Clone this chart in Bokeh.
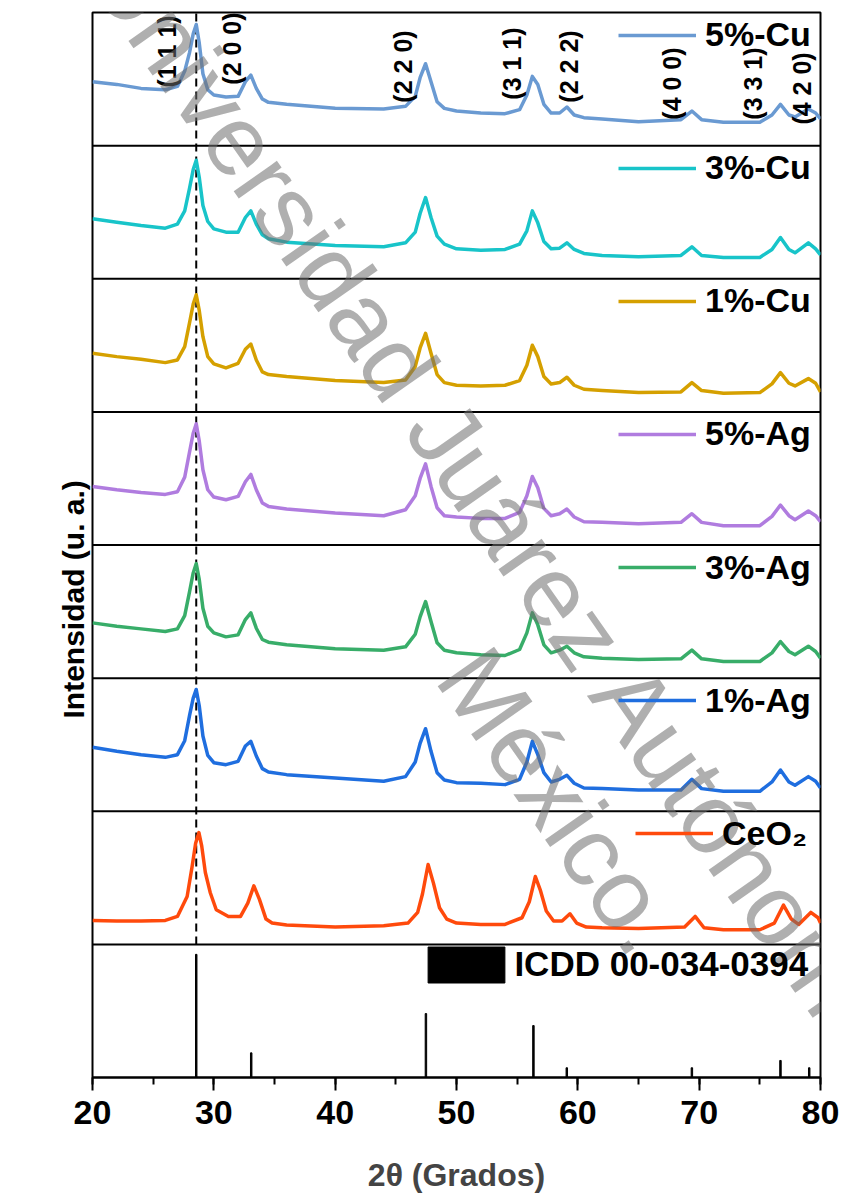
import numpy as np
from bokeh.plotting import figure
from bokeh.models import (Range1d, Span, Legend, LegendItem, Label, Title,
                          FixedTicker, SingleIntervalTicker)
from bokeh.core.properties import value
from bokeh.embed import file_html
from bokeh.resources import INLINE

# ---------------- data ----------------
# 2-theta grid of the doped samples
TTH = [20, 22, 24, 26, 27, 27.6, 28.0, 28.3, 28.55, 28.8, 29.1, 29.5, 30, 31, 32,
       32.6, 33.05, 33.5, 34, 34.5, 36, 40, 44, 45.8, 46.6, 47.0, 47.45, 47.9, 48.4,
       49, 50, 52, 54, 55.2, 55.8, 56.25, 56.7, 57.2, 57.8, 58.5, 59.1, 59.7, 60.5,
       62, 65, 68.5, 69.4, 70.2, 72, 75, 76.0, 76.7, 77.4, 77.9, 79.0, 79.6, 80]

I_5CU = [48, 46, 43, 42, 44.5, 56, 70, 84, 91, 77, 54, 42, 38, 36.5, 37, 48, 53,
         43, 35, 32.5, 31, 28, 27.5, 29.5, 37, 51, 61.5, 48, 33, 28, 26, 24.5, 24,
         27, 38, 52, 46, 31, 24.5, 24.5, 29, 23, 21, 20, 18, 19.5, 26, 19.5, 17.5,
         17.5, 23, 31, 23, 21.5, 27.5, 24.5, 20]
I_3CU = [45, 42.5, 40, 38, 41, 51, 68, 82, 89, 76, 55, 43, 37.5, 35, 35, 46,
         51, 41, 33, 30, 27.5, 25, 24, 27, 35, 49, 61, 46, 32, 26, 22.5, 21.5, 22,
         26, 36, 51, 42, 28, 22.5, 23, 27, 22, 19, 17.5, 16.5, 17.5, 24, 17.5, 16,
         16, 22, 31, 22, 19.5, 27, 22.5, 18]
I_1CU = [44, 41.5, 39.5, 37, 39, 49, 67, 81, 88, 76, 56.5, 41.5, 36, 33, 36.5, 47,
         51, 39, 30, 28, 26.5, 23.5, 22, 24, 34, 48, 59, 44, 28, 22, 20, 19.5, 20,
         23.5, 35, 50, 41.5, 26.5, 21, 22, 26, 20, 17, 16, 14.5, 15, 22, 16, 14, 14.5,
         21, 29.5, 21.5, 19.5, 25, 21.5, 15]
I_5AG = [44, 41.5, 39.5, 38, 40, 51, 70, 84, 91, 78, 56.5, 41.5, 36, 34,
         36.5, 47.5, 53, 41.5, 31.5, 29, 27, 24, 22, 26.5, 37, 50, 61, 44, 28, 22,
         21, 20, 20, 24.5, 37, 51.5, 43, 27.5, 22, 23.5, 27, 21, 17.5, 17, 16, 17,
         23.5, 17, 14.5, 14.5, 21.5, 30, 22, 19, 25.5, 22, 17.5]
I_3AG = [41.5, 39, 37, 35, 37, 47, 65, 79, 86, 74, 52.5, 39, 34, 31, 32.5,
         44, 49, 37.5, 29, 27, 25, 22, 21, 23.5, 33, 46, 57.5, 42.5, 26.5, 21, 19,
         17.5, 17, 21.5, 34, 49, 40, 25, 19, 21, 24, 19, 16, 15, 14, 14.5, 21, 14.5,
         12.5, 12.5, 19, 27.5, 20, 17.5, 24, 20, 15]
I_1AG = [48, 45, 42.5, 40.5, 42.5, 53, 72, 85, 91.5, 79, 56.5, 42, 36.5, 35, 37.5,
         49, 52.5, 41.5, 32, 29.5, 27.5, 25, 22.5, 26, 37, 51, 62, 45, 29, 23.5,
         21.5, 21, 20, 24, 37, 52.5, 42.5, 29, 22, 24, 27, 21, 17.5, 17, 16, 16, 24,
         17, 15, 15, 22, 31, 22, 19.5, 26, 22.5, 17.5]

# pure ceria (peaks slightly shifted)
TTH_CEO2 = [20, 22, 24, 26, 27, 27.8, 28.2, 28.5, 28.77, 29.0, 29.3, 29.7, 30.2, 31.2,
            32.2, 32.8, 33.3, 33.75, 34.3, 34.8, 36, 40, 44, 46, 46.8, 47.2, 47.66,
            48.1, 48.6, 49.2, 50, 52, 54, 55.4, 56.0, 56.5, 56.9, 57.4, 58.0, 58.7,
            59.35, 59.9, 60.7, 62, 65, 68.8, 69.67, 70.4, 72, 75, 76.2, 76.95, 77.6,
            78.2, 79.2, 79.8, 80]
I_CEO2 = [18, 17.5, 17.5, 18, 21, 36, 58, 76, 84, 74, 54, 39, 26, 21, 21, 31, 44, 34,
          19, 16, 14.5, 13, 14, 16, 24, 38, 60, 46, 27.5, 19, 16, 15, 15, 20, 32, 51,
          41, 25, 17.5, 17.5, 23, 16, 13, 12.5, 12, 13, 21, 12.5, 11, 11, 16, 29.5, 19,
          15, 24, 20, 16]

# reference pattern ICDD 00-034-0394 (relative heights)
ICDD_POS = [28.55, 33.08, 47.48, 56.34, 59.09, 69.40, 76.70, 79.07]
ICDD_INT = [92.5, 18.5, 48, 39, 7.3, 7.3, 12.8, 7.3]
ICDD_LABEL = "ICDD 00-034-0394"

# Miller indices
HKL_LABELS = ["(1 1 1)", "(2 0 0)", "(2 2 0)", "(3 1 1)", "(2 2 2)", "(4 0 0)",
              "(3 3 1)", "(4 2 0)"]
HKL_POS = [26.1, 31.5, 45.6, 54.55, 59.25, 67.8, 74.45, 78.45]
HKL_LEVEL = [43.6, 45.8, 32.3, 34.5, 32.3, 19.5, 19.5, 15.8]

SAMPLES = ["5%-Cu", "3%-Cu", "1%-Cu", "5%-Ag", "3%-Ag", "1%-Ag", "CeO₂"]
X_SERIES = [TTH, TTH, TTH, TTH, TTH, TTH, TTH_CEO2]
Y_SERIES = [I_5CU, I_3CU, I_1CU, I_5AG, I_3AG, I_1AG, I_CEO2]
COLORS = ["#6A9AD2", "#18C4C9", "#D5A000", "#B07CDF", "#38AD69", "#1F6EDF", "#FF4A0C"]

X_TITLE = "2θ (Grados)"
Y_TITLE = "Intensidad (u. a.)"

# ---------------- layout ----------------
FONT = "Liberation Sans"
W, H = 841, 1195
ML, MR, MT = 92, 21, 12
FRAME_H = 1065
MB = H - MT - FRAME_H
NPANEL = 8
PANEL_PX = FRAME_H / NPANEL
STEP = 100.0

p = figure(width=W, height=H, x_range=Range1d(20, 80),
           y_range=Range1d(0, NPANEL * STEP), output_backend="svg",
           toolbar_location=None, title=None,
           min_border_left=ML, min_border_right=MR, min_border_top=MT,
           min_border_bottom=MB)
p.outline_line_color = "black"
p.outline_line_width = 2
p.xgrid.visible = False
p.ygrid.visible = False
p.background_fill_color = "white"
p.border_fill_color = "white"

# x axis
xa = p.xaxis[0]
xa.ticker = SingleIntervalTicker(interval=10, num_minor_ticks=2)
xa.axis_line_width = 2
xa.major_tick_line_width = 2
xa.minor_tick_line_width = 2
xa.major_tick_in = 0
xa.major_tick_out = 13
xa.minor_tick_in = 0
xa.minor_tick_out = 7
xa.major_label_standoff = 10
xa.major_label_text_font = FONT
xa.major_label_text_font_style = "bold"
xa.major_label_text_font_size = "34px"
xa.major_label_text_color = "black"
xa.axis_label = X_TITLE
xa.axis_label_text_font = FONT
xa.axis_label_text_font_style = "bold"
xa.axis_label_text_font_size = "32px"
xa.axis_label_standoff = 30

# y axis: no ticks or labels, it only keeps a gap between frame and its title
ya = p.yaxis[0]
ya.ticker = FixedTicker(ticks=[])
ya.axis_line_color = None
ya.major_tick_in = 0
ya.major_tick_out = 40
ya.minor_tick_in = 0
ya.minor_tick_out = 0

# y title, set lower than the frame centre as in the source; placed outside the axis
y_title = Title(text=Y_TITLE, align="left", offset=359, vertical_align="bottom",
                standoff=6, text_font=FONT, text_font_style="bold",
                text_font_size="30px", text_color="black")
p.left = [y_title] + list(p.left)

# panel separators
for k in range(1, NPANEL):
    p.add_layout(Span(location=k * STEP, dimension="width",
                      line_color="black", line_width=2))

# dashed reference line at the (111) reflection
p.segment(x0=ICDD_POS[0], y0=STEP, x1=ICDD_POS[0], y1=NPANEL * STEP,
          line_color="black", line_width=2, line_dash="8 5")

def legend_style(leg, size="34px"):
    leg.border_line_alpha = 0
    leg.background_fill_alpha = 0
    leg.padding = 0
    leg.margin = 0
    leg.spacing = 0
    leg.label_text_font = FONT
    leg.label_text_font_style = "bold"
    leg.label_text_font_size = size
    leg.label_text_color = "black"

# patterns
ITEM_H = 40
for i, (name, xs, ys, col) in enumerate(zip(SAMPLES, X_SERIES, Y_SERIES, COLORS)):
    panel = NPANEL - 1 - i
    off = panel * STEP
    r = p.line(xs, [v + off for v in ys], line_color=col, line_width=3.5,
               line_join="round")
    cy = (panel + 1) * PANEL_PX - 22.5
    x0 = 543 if name.startswith("CeO") else 526
    leg = Legend(items=[LegendItem(label=name, renderers=[r])],
                 location=(x0, cy - ITEM_H / 2),
                 glyph_width=78, glyph_height=ITEM_H, label_height=ITEM_H,
                 label_standoff=9)
    legend_style(leg)
    p.add_layout(leg)

# reference sticks
rs = p.vbar(x=ICDD_POS, top=ICDD_INT, bottom=0, width=0.12,
            fill_color="black", line_color="black", line_width=1)
ICDD_ITEM_H = 45
leg = Legend(items=[LegendItem(label=ICDD_LABEL, renderers=[rs])],
             location=(326.4, PANEL_PX - 20.5 - ICDD_ITEM_H / 2),
             glyph_width=96, glyph_height=ICDD_ITEM_H, label_height=ICDD_ITEM_H,
             label_standoff=0)
legend_style(leg, "35px")
p.add_layout(leg)

# Miller index labels (top panel)
p.text(x=HKL_POS, y=[(NPANEL - 1) * STEP + v for v in HKL_LEVEL], text=HKL_LABELS,
       angle=np.pi / 2, text_align="left", text_baseline="middle",
       text_font=value(FONT), text_font_style="bold", text_font_size="25px",
       text_color="black")

# watermark of the source document
WM_LINES = ["Universidad Juárez Autónoma de Tabasco", "México."]
WM_X = [66.0, 58.57]
WM_Y = [264.4, 208.1]
for t, wx, wy in zip(WM_LINES, WM_X, WM_Y):
    p.add_layout(Label(x=wx, y=wy, text=t, angle=-55, angle_units="deg",
                       text_align="center", text_baseline="middle",
                       text_font=FONT, text_font_size="100px",
                       text_color="#6E6E6E", text_alpha=0.55))

open("out.html", "w").write(file_html(p, INLINE))
